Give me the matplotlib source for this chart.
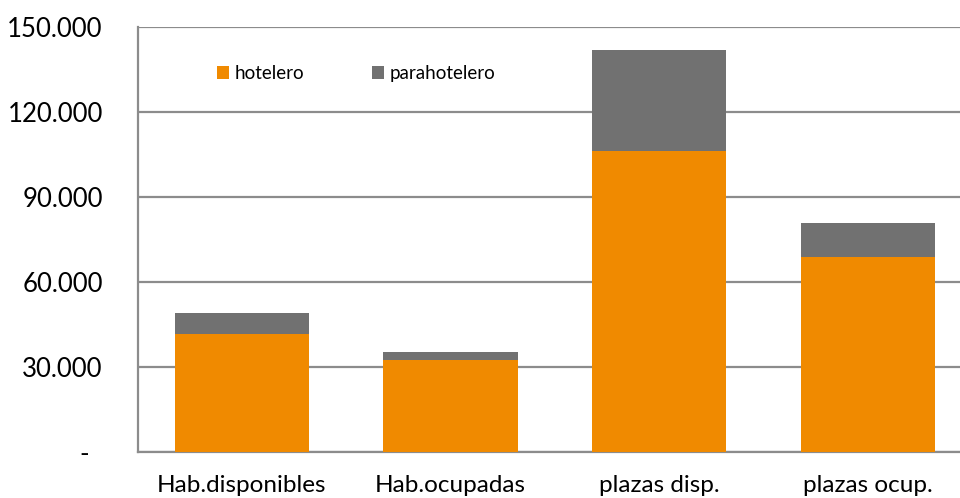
import numpy as np
import matplotlib.pyplot as plt
from matplotlib.ticker import FuncFormatter

categories = ['Hab.disponibles', 'Hab.ocupadas', 'plazas disp.', 'plazas ocup.']
hotelero = [41600, 32300, 106300, 68700]
parahotelero = [7400, 3000, 35650, 12050]
yticks = [0, 30000, 60000, 90000, 120000, 150000]

orange = '#F08A00'
gray = '#717171'
gridc = '#8C8C8C'

plt.rcParams['font.family'] = ['Lato', 'DejaVu Sans']

fig = plt.figure(figsize=(9.6, 4.98), dpi=100)
ax = fig.add_axes([137.5 / 960, 1 - 451.5 / 498, 834.5 / 960, 424.5 / 498])

x = np.arange(len(categories))
ax.bar(x, hotelero, width=0.644, color=orange, label='hotelero', zorder=3)
ax.bar(x, parahotelero, width=0.644, bottom=hotelero, color=gray,
       label='parahotelero', zorder=3)

ax.set_xlim(-0.5, 3.5)
ax.set_ylim(0, 150000)
ax.set_yticks(yticks)

def fmt(v, pos):
    if v == 0:
        return '-  '
    return f'{int(v):,}'.replace(',', '.')

ax.yaxis.set_major_formatter(FuncFormatter(fmt))
ax.set_xticks(x)
ax.set_xticklabels(categories, fontsize=17.5)
ax.tick_params(axis='x', length=0, pad=17)
ax.tick_params(axis='y', length=0, pad=25, labelsize=18.5)

ax.yaxis.grid(True, color=gridc, linewidth=1.6)
ax.set_axisbelow(True)
for s in ['top', 'right']:
    ax.spines[s].set_visible(False)
for s in ['left', 'bottom']:
    ax.spines[s].set_color(gridc)
    ax.spines[s].set_linewidth(1.6)

ax.legend(loc='upper left', bbox_to_anchor=(217 / 960, 1 - 65 / 498),
          bbox_transform=fig.transFigure, ncol=2, frameon=False,
          fontsize=13.5, handlelength=0.65, handleheight=0.65,
          handletextpad=0.3, columnspacing=3.6, borderaxespad=0,
          borderpad=0)

fig.savefig('out.png', dpi=100)
